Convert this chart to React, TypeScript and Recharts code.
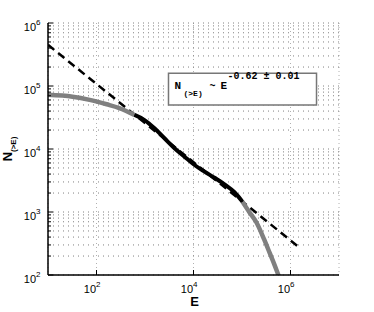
import { LineChart, Line, XAxis, YAxis, CartesianGrid, ReferenceArea } from "recharts";

// power-law fit (dashed), ends of the drawn segment
const fitE = [10, 1.38e6];
const fitN = [450000, 290];

// low-energy part of the distribution (gray)
const headE = [10, 32, 72, 162, 295, 608];
const headN = [72400, 67600, 60300, 51300, 44700, 34700];

// fitted range (black)
const midE = [608, 977, 1570, 2520, 4060, 6520, 10500, 16900, 27100, 43600, 70000, 102000];
const midN = [34700, 28800, 21300, 14800, 10300, 7550, 5570, 4370, 3490, 2750, 2060, 1460];

// high-energy cut-off (gray)
const tailE = [102000, 141000, 200000, 288000, 372000, 468000, 562000, 708000];
const tailN = [1460, 1000, 676, 363, 224, 145, 100, 63];

const xTicks = [1e2, 1e4, 1e6];
const yTicks = [2, 3, 4, 5, 6].flatMap((d) =>
  d === 6 ? [1e6] : [1, 2, 3, 4, 5, 6, 7, 8, 9].map((k) => k * 10 ** d)
);

// annotation box corners (data units)
const boxX = [3050, 3.44e6];
const boxY = [49900, 160000];

const toRows = (es: number[], ns: number[]) => es.map((e, i) => ({ e, n: ns[i] }));
const fitData = toRows(fitE, fitN);
const headData = toRows(headE, headN);
const midData = toRows(midE, midN);
const tailData = toRows(tailE, tailN);

const TM = 6;
const SANS = "'Liberation Sans', Arial, sans-serif";
const MONO = "'Liberation Mono', 'Courier New', monospace";

const isMajor = (v: number) => {
  const p = Math.log10(v);
  return Math.abs(p - Math.round(p)) < 1e-6;
};

const LeftTick = (props: any) => {
  const { x, y, payload } = props;
  const ax = x + TM;
  const major = isMajor(payload.value);
  return (
    <g>
      <line x1={ax} x2={ax + (major ? 5 : 3)} y1={y} y2={y} stroke="#000" />
      {major && (
        <text x={ax - 7.5} y={y + 8} textAnchor="end" fontSize={11} fontFamily={SANS} fill="#000" stroke="none">
          <tspan>10</tspan>
          <tspan fontSize={8} dy={-6}>{Math.round(Math.log10(payload.value))}</tspan>
        </text>
      )}
    </g>
  );
};

const RightTick = (props: any) => {
  const { x, y, payload } = props;
  const ax = x - TM;
  const major = isMajor(payload.value);
  return <line x1={ax} x2={ax - (major ? 5 : 3)} y1={y} y2={y} stroke="#444" />;
};

const BottomTick = (props: any) => {
  const { x, y, payload } = props;
  const ay = y - TM;
  return (
    <g>
      <line x1={x} x2={x} y1={ay} y2={ay - 5} stroke="#000" />
      <text x={x + 4} y={ay + 18} textAnchor="end" fontSize={11} fontFamily={SANS} fill="#000" stroke="none">
        <tspan>10</tspan>
        <tspan fontSize={8} dy={-6}>{Math.round(Math.log10(payload.value))}</tspan>
      </text>
    </g>
  );
};

const TopTick = (props: any) => {
  const { x, y } = props;
  const ay = y + TM;
  return <line x1={x} x2={x} y1={ay} y2={ay + 5} stroke="#000" />;
};

const XLabel = (props: any) => {
  const vb = props.viewBox;
  return (
    <text x={vb.x + vb.width / 2 + 1} y={vb.y + 31} textAnchor="middle" fontSize={13} fontWeight="bold" fontFamily={SANS} fill="#000">
      E
    </text>
  );
};

const YLabel = (props: any) => {
  const vb = props.viewBox;
  const cx = vb.x + 4;
  const cy = vb.y + vb.height / 2;
  return (
    <text x={cx} y={cy} transform={`rotate(-90, ${cx}, ${cy})`} textAnchor="middle" fontFamily={SANS} fill="#000">
      <tspan fontSize={13} fontWeight="bold">N</tspan>
      <tspan fontSize={8} fontWeight="bold" dy={4}>(&gt;E)</tspan>
    </text>
  );
};

const FitLabel = (props: any) => {
  const vb = props.viewBox;
  const x0 = vb.x;
  const y0 = vb.y;
  return (
    <g fontFamily={MONO} fontWeight="bold" fill="#000">
      <text x={x0 + 6} y={y0 + 16} fontSize={11} textAnchor="start">N</text>
      <text x={x0 + 15} y={y0 + 23} fontSize={8} textAnchor="start">(&gt;E)</text>
      <text x={x0 + 41} y={y0 + 16} fontSize={10} textAnchor="start">~</text>
      <text x={x0 + 52} y={y0 + 16} fontSize={11} textAnchor="start">E</text>
      <text x={x0 + 59} y={y0 + 6} fontSize={10} textAnchor="start">-0.62 ± 0.01</text>
    </g>
  );
};

export default function App() {
  return (
    <div style={{ width: 374, height: 312, background: "#fff" }}>
      <style>{"body{margin:0}"}</style>
      <LineChart width={374} height={312} margin={{ top: 23, right: 35, bottom: 7, left: 8 }}>
        <CartesianGrid horizontal={false} stroke="#b0b0b0" strokeDasharray="1 3" />
        <CartesianGrid vertical={false} stroke="#808080" strokeDasharray="1 4" />
        <XAxis
          dataKey="e"
          type="number"
          scale="log"
          domain={[10, 1e7]}
          ticks={xTicks}
          interval={0}
          allowDataOverflow
          height={30}
          tickSize={0}
          tickMargin={TM}
          tick={<BottomTick />}
          axisLine={{ stroke: "#000", strokeWidth: 1.5 }}
          label={{ content: XLabel }}
        />
        <XAxis
          xAxisId="top"
          orientation="top"
          type="number"
          scale="log"
          domain={[10, 1e7]}
          ticks={xTicks}
          interval={0}
          allowDataOverflow
          height={0}
          tickSize={0}
          tickMargin={TM}
          tick={<TopTick />}
          axisLine={{ stroke: "#000", strokeWidth: 1.2 }}
        />
        <YAxis
          type="number"
          scale="log"
          domain={[100, 1e6]}
          ticks={yTicks}
          interval={0}
          allowDataOverflow
          width={40}
          tickSize={0}
          tickMargin={TM}
          tick={<LeftTick />}
          axisLine={{ stroke: "#000", strokeWidth: 1.5 }}
          label={{ content: YLabel }}
        />
        <YAxis
          yAxisId="right"
          orientation="right"
          type="number"
          scale="log"
          domain={[100, 1e6]}
          ticks={yTicks}
          interval={0}
          allowDataOverflow
          width={0}
          tickSize={0}
          tickMargin={TM}
          tick={<RightTick />}
          axisLine={{ stroke: "#666", strokeWidth: 1.2 }}
        />
        <ReferenceArea
          x1={boxX[0]}
          x2={boxX[1]}
          y1={boxY[0]}
          y2={boxY[1]}
          fill="#fff"
          fillOpacity={1}
          stroke="#777"
          strokeWidth={1.5}
          label={FitLabel}
        />
        <Line data={fitData} dataKey="n" type="linear" stroke="#000" strokeWidth={2.5} strokeDasharray="8 5" dot={false} isAnimationActive={false} />
        <Line data={headData} dataKey="n" type="monotone" stroke="#808080" strokeWidth={4.5} dot={false} isAnimationActive={false} />
        <Line data={tailData} dataKey="n" type="monotone" stroke="#808080" strokeWidth={4.5} dot={false} isAnimationActive={false} />
        <Line data={midData} dataKey="n" type="monotone" stroke="#000" strokeWidth={4} dot={false} isAnimationActive={false} />
      </LineChart>
    </div>
  );
}
